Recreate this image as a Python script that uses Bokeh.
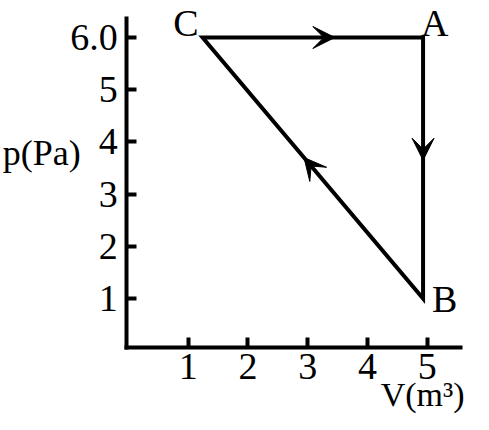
from bokeh.plotting import figure
from bokeh.models import Range1d, FixedTicker, Label, Arrow, VeeHead
from bokeh.embed import file_html
from bokeh.resources import INLINE

# ---- data ----
state_names = ["A", "B", "C"]
volume = [4.93, 4.93, 1.24]      # V (m^3)
pressure = [6.0, 1.0, 6.0]       # p (Pa)
cycle_order = ["A", "B", "C"]    # A -> B -> C -> A
x_ticks = [1, 2, 3, 4, 5]
y_ticks = [1, 2, 3, 4, 5, 6]
y_tick_overrides = {6: "6.0"}
x_title = "V(m³)"
y_title = "p(Pa)"

# ---- layout / styles ----
FONT = "Liberation Serif"
BLACK = "#000000"
X_VIEW = (-2.142, 5.774)          # visible data span across the whole canvas
Y_VIEW = (-1.222, 6.709)
X_AXIS_SPAN = (-0.03, 5.56)
Y_AXIS_SPAN = (0.06, 6.36)
arrow_fraction = {"AB": 0.47, "BC": 0.54, "CA": 0.60}

idx = {n: i for i, n in enumerate(state_names)}
cx = [volume[idx[n]] for n in cycle_order]
cy = [pressure[idx[n]] for n in cycle_order]

p = figure(width=473, height=414, output_backend="svg", toolbar_location=None,
           x_range=Range1d(*X_VIEW), y_range=Range1d(*Y_VIEW),
           min_border_left=0, min_border_right=0, min_border_top=0,
           min_border_bottom=0)
p.outline_line_color = None
p.grid.visible = False
p.background_fill_color = "white"
p.border_fill_color = "white"

p.patch(cx, cy, fill_color=None, line_color=BLACK, line_width=4, line_join="miter")

# arrow heads along each leg of the cycle
for i, a in enumerate(cycle_order):
    b = cycle_order[(i + 1) % len(cycle_order)]
    f = arrow_fraction[a + b]
    x0, y0 = volume[idx[a]], pressure[idx[a]]
    x1, y1 = volume[idx[b]], pressure[idx[b]]
    tip = (x0 + f * (x1 - x0), y0 + f * (y1 - y0))
    tail = (x0 + (f - 0.02) * (x1 - x0), y0 + (f - 0.02) * (y1 - y0))
    p.add_layout(Arrow(x_start=tail[0], y_start=tail[1], x_end=tip[0], y_end=tip[1],
                       line_alpha=0,
                       end=VeeHead(size=22, fill_color=BLACK, line_color=BLACK,
                                   line_width=1)))

# state labels
label_style = {
    "A": dict(text_align="left", x_offset=-2, y_offset=15),
    "B": dict(text_align="left", x_offset=9, y_offset=0),
    "C": dict(text_align="right", x_offset=-4, y_offset=15),
}
for n in state_names:
    p.add_layout(Label(x=volume[idx[n]], y=pressure[idx[n]], text=n,
                       text_font=FONT, text_font_size="38px", text_color=BLACK,
                       text_baseline="alphabetic", **label_style[n]))

# axes, pinned at the origin corner
p.xaxis.ticker = FixedTicker(ticks=x_ticks)
p.yaxis.ticker = FixedTicker(ticks=y_ticks)
p.yaxis.major_label_overrides = y_tick_overrides
p.xaxis.fixed_location = Y_AXIS_SPAN[0]
p.yaxis.fixed_location = X_AXIS_SPAN[0]
p.xaxis.bounds = X_AXIS_SPAN
p.yaxis.bounds = Y_AXIS_SPAN
for ax in (p.xaxis, p.yaxis):
    ax.axis_line_width = 4
    ax.axis_line_color = BLACK
    ax.axis_line_cap = "square"
    ax.major_tick_in = 10
    ax.major_tick_out = 0
    ax.major_tick_line_width = 4
    ax.major_tick_line_color = BLACK
    ax.minor_tick_line_color = None
    ax.major_label_text_font = FONT
    ax.major_label_text_font_size = "38px"
    ax.major_label_text_color = BLACK
p.xaxis.major_label_standoff = 6
p.yaxis.major_label_standoff = 9

# axis titles
p.add_layout(Label(x=-0.80, y=3.78, text=y_title, text_font=FONT,
                   text_font_size="36px", text_color=BLACK,
                   text_align="right", text_baseline="alphabetic"))
p.add_layout(Label(x=4.22, y=-0.84, text=x_title, text_font=FONT,
                   text_font_size="34px", text_color=BLACK,
                   text_align="left", text_baseline="alphabetic"))

open("out.html", "w").write(file_html(p, INLINE))
